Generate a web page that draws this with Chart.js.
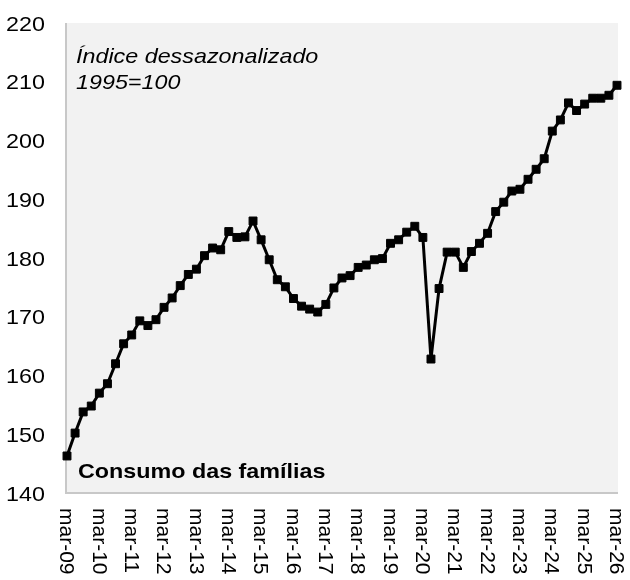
<!DOCTYPE html>
<html><head><meta charset="utf-8">
<script src="https://cdn.jsdelivr.net/npm/chart.js@4.4.1/dist/chart.umd.min.js"></script>
<style>html,body{margin:0;padding:0;background:#fff}canvas{display:block}</style>
</head><body>
<canvas id="c" width="630" height="580"></canvas>
<script>
const categories = [
 "mar-09","jun-09","set-09","dez-09","mar-10","jun-10","set-10","dez-10",
 "mar-11","jun-11","set-11","dez-11","mar-12","jun-12","set-12","dez-12",
 "mar-13","jun-13","set-13","dez-13","mar-14","jun-14","set-14","dez-14",
 "mar-15","jun-15","set-15","dez-15","mar-16","jun-16","set-16","dez-16",
 "mar-17","jun-17","set-17","dez-17","mar-18","jun-18","set-18","dez-18",
 "mar-19","jun-19","set-19","dez-19","mar-20","jun-20","set-20","dez-20",
 "mar-21","jun-21","set-21","dez-21","mar-22","jun-22","set-22","dez-22",
 "mar-23","jun-23","set-23","dez-23","mar-24","jun-24","set-24","dez-24",
 "mar-25","jun-25","set-25","dez-25","mar-26"
];
const consumo = [
 146.3,150.2,153.8,154.8,157.0,158.6,162.0,165.4,
 166.9,169.3,168.5,169.5,171.6,173.2,175.3,177.2,
 178.1,180.4,181.7,181.4,184.5,183.5,183.6,186.3,
 183.1,179.7,176.3,175.1,173.1,171.8,171.3,170.8,
 172.1,174.9,176.6,177.0,178.4,178.8,179.7,179.9,
 182.5,183.1,184.4,185.4,183.5,162.8,174.8,181.0,
 181.0,178.4,181.1,182.5,184.2,187.9,189.5,191.4,
 191.7,193.4,195.1,196.9,201.6,203.5,206.4,205.1,
 206.2,207.2,207.2,207.7,209.4
];
const yTicks = [140,150,160,170,180,190,200,210,220];
const xTickLabels = ["mar-09","mar-10","mar-11","mar-12","mar-13","mar-14","mar-15","mar-16","mar-17",
 "mar-18","mar-19","mar-20","mar-21","mar-22","mar-23","mar-24","mar-25","mar-26"];
const noteLines = ["Índice dessazonalizado","1995=100"];
const seriesTitle = "Consumo das famílias";

const FONT = '"Liberation Sans", Arial, Helvetica, sans-serif';
const SX = 1.11;

function stretchedText(ctx, text, x, y, font, align) {
  ctx.save();
  ctx.font = font;
  ctx.fillStyle = '#000';
  ctx.textBaseline = 'alphabetic';
  ctx.textAlign = 'left';
  const w = ctx.measureText(text).width * SX;
  const x0 = align === 'right' ? x - w : x;
  ctx.translate(x0, y);
  ctx.scale(SX, 1);
  ctx.fillText(text, 0, 0);
  ctx.restore();
}

const decor = {
  id: 'decor',
  beforeDraw(chart) {
    const ctx = chart.ctx, a = chart.chartArea;
    ctx.save();
    ctx.fillStyle = '#ffffff';
    ctx.fillRect(0, 0, chart.width, chart.height);
    ctx.fillStyle = '#f2f2f2';
    ctx.fillRect(a.left - 1, a.top, a.right - a.left + 2, a.bottom - a.top);
    ctx.strokeStyle = '#c8c8c8';
    ctx.lineWidth = 2;
    ctx.beginPath();
    ctx.moveTo(a.left - 1, a.top);
    ctx.lineTo(a.left - 1, a.bottom);
    ctx.lineTo(a.right + 1, a.bottom);
    ctx.stroke();
    ctx.restore();
  },
  afterDraw(chart) {
    const ctx = chart.ctx, a = chart.chartArea;
    const xs = chart.scales.x, ys = chart.scales.y;
    // y tick labels
    yTicks.forEach(v => {
      const py = ys.getPixelForValue(v);
      stretchedText(ctx, String(v), 45, py + 7.5, '21px ' + FONT, 'right');
    });
    // x tick labels, rotated clockwise
    ctx.save();
    ctx.font = '21px ' + FONT;
    ctx.fillStyle = '#000';
    xTickLabels.forEach(lbl => {
      const idx = categories.indexOf(lbl);
      const px = xs.getPixelForValue(idx);
      ctx.save();
      ctx.translate(px, 508);
      ctx.rotate(Math.PI / 2);
      ctx.textAlign = 'left';
      ctx.textBaseline = 'middle';
      ctx.fillText(lbl, 0, 1);
      ctx.restore();
    });
    ctx.restore();
    // notes
    stretchedText(ctx, noteLines[0], 76, 63, 'italic 21px ' + FONT, 'left');
    stretchedText(ctx, noteLines[1], 76, 89, 'italic 21px ' + FONT, 'left');
    stretchedText(ctx, seriesTitle, 78, 478, 'bold 21px ' + FONT, 'left');
  }
};

new Chart(document.getElementById('c'), {
  type: 'line',
  data: {
    labels: categories,
    datasets: [{
      data: consumo,
      borderColor: '#000',
      backgroundColor: '#000',
      borderWidth: 3,
      pointStyle: 'rect',
      pointRadius: 5.6,
      pointBorderWidth: 1,
      pointBorderColor: '#000',
      pointBackgroundColor: '#000',
      tension: 0,
      clip: false
    }]
  },
  options: {
    responsive: false,
    devicePixelRatio: 1,
    animation: false,
    layout: { padding: { left: 67, right: 13, top: 23, bottom: 87 } },
    plugins: { legend: { display: false }, tooltip: { enabled: false } },
    scales: {
      x: { type: 'category', display: false, offset: false },
      y: { display: false, min: 140, max: 220 }
    }
  },
  plugins: [decor]
});
</script>
</body></html>
